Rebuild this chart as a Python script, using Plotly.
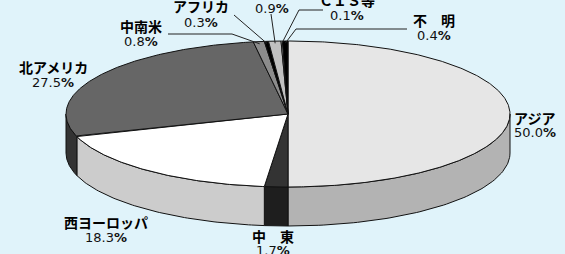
import numpy as np
import plotly.graph_objects as go

# ---- data ----
regions = ["アジア", "中　東", "西ヨーロッパ", "北アメリカ", "中南米", "アフリカ", "大洋州", "ＣＩＳ等", "不　明"]
shares = [50.0, 1.7, 18.3, 27.5, 0.8, 0.3, 0.9, 0.1, 0.4]
value_labels = ["50.0", "1.7", "18.3", "27.5", "0.8", "0.3", "0.9", "0.1", "0.4"]

# ---- style ----
top_colors = ["#E6E6E6", "#333333", "#FFFFFF", "#666666", "#8C8C8C", "#000000", "#C0C0C0", "#FFFFFF", "#000000"]
side_colors = ["#B3B3B3", "#1E1E1E", "#CCCCCC", "#333333", "#5A5A5A", "#000000", "#8C8C8C", "#CCCCCC", "#000000"]
BG = "#E0F3FA"
CX, CY, RX, RY, DEPTH = 288, 114, 222, 73, 39
W, H = 565, 254

# label layout: (x, y_name, y_value, xanchor)
label_pos = {
    "アジア": (512, 118, 132, "left"),
    "中　東": (273, 236, 250, "center"),
    "西ヨーロッパ": (106, 222, 237, "center"),
    "北アメリカ": (53, 67, 82, "center"),
    "中南米": (141, 26, 41, "center"),
    "アフリカ": (201, 6, 22, "center"),
    "大洋州": (272, -7, 8, "center"),
    "ＣＩＳ等": (347, 0, 15, "center"),
    "不　明": (434, 20, 35, "center"),
}
# leader line elbow points (label side)
leader_pts = {
    "中南米": [(168, 34), (232, 34)],
    "アフリカ": [(234, 15)],
    "大洋州": [(271, 14)],
    "ＣＩＳ等": [(323, 10), (299, 10)],
    "不　明": [(407, 29), (296, 29)],
}


def ex(t):
    return CX + RX * np.sin(np.radians(t))


def ey(t):
    return CY - RY * np.cos(np.radians(t))


cum = np.concatenate([[0], np.cumsum(shares)])
angles = cum / cum[-1] * 360.0

fig = go.Figure()

# side faces (front half only)
for i, r in enumerate(regions):
    a1, a2 = angles[i], angles[i + 1]
    lo, hi = max(a1, 90), min(a2, 270)
    if lo < hi:
        t = np.linspace(lo, hi, 80)
        xs = np.concatenate([ex(t), ex(t[::-1]), [ex(t[0])]])
        ys = np.concatenate([ey(t), ey(t[::-1]) + DEPTH, [ey(t[0])]])
        fig.add_trace(go.Scatter(x=xs, y=ys, mode="lines", fill="toself",
                                 fillcolor=side_colors[i],
                                 line=dict(color="#111111", width=1),
                                 hoverinfo="skip", showlegend=False))

# top faces
for i, r in enumerate(regions):
    a1, a2 = angles[i], angles[i + 1]
    n = max(4, int((a2 - a1) * 2))
    t = np.linspace(a1, a2, n)
    xs = np.concatenate([[CX], ex(t), [CX]])
    ys = np.concatenate([[CY], ey(t), [CY]])
    fig.add_trace(go.Scatter(x=xs, y=ys, mode="lines", fill="toself",
                             fillcolor=top_colors[i],
                             line=dict(color="#111111", width=1),
                             hoverinfo="skip", showlegend=False))

# leader lines
for i, r in enumerate(regions):
    if r in leader_pts:
        mid = (angles[i] + angles[i + 1]) / 2
        px = CX + 0.97 * RX * np.sin(np.radians(mid))
        py = CY - 0.97 * RY * np.cos(np.radians(mid))
        pts = leader_pts[r] + [(px, py)]
        fig.add_trace(go.Scatter(x=[p[0] for p in pts], y=[p[1] for p in pts],
                                 mode="lines", line=dict(color="#222222", width=1),
                                 hoverinfo="skip", showlegend=False))

NAME_FONT = "Noto Sans CJK JP"
NUM_FONT = "DejaVu Sans"
for i, r in enumerate(regions):
    x, yn, yv, anc = label_pos[r]
    fig.add_annotation(x=x, y=yn, text="<b>%s</b>" % r, showarrow=False,
                       xanchor=anc, yanchor="middle",
                       font=dict(family=NAME_FONT, size=14, color="#000000"))
    fig.add_annotation(x=x, y=yv,
                       text="%s<b>%%</b>" % value_labels[i], showarrow=False,
                       xanchor=anc, yanchor="middle",
                       font=dict(family=NUM_FONT, size=13, color="#111111"))

fig.update_layout(
    width=W, height=H, margin=dict(l=0, r=0, t=0, b=0),
    paper_bgcolor=BG, plot_bgcolor=BG,
    xaxis=dict(range=[0, W], visible=False, fixedrange=True),
    yaxis=dict(range=[H, 0], visible=False, fixedrange=True),
    showlegend=False,
)
fig.write_html(
    "out.html",
    config={"displayModeBar": False, "staticPlot": True},
    post_script="document.body.style.margin='0';document.body.style.overflow='hidden';"
                "document.body.style.background='" + BG + "';",
)
